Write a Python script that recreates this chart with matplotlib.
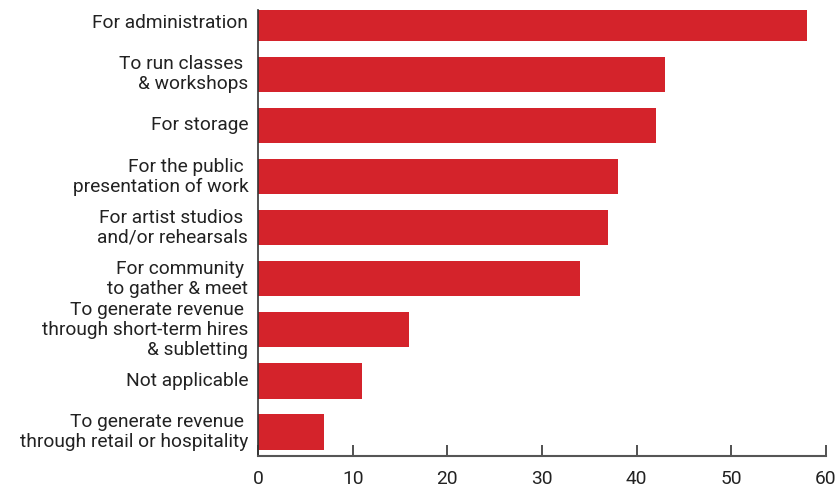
import matplotlib
matplotlib.use("Agg")
import matplotlib.pyplot as plt

# ── Data ─────────────────────────────────────────────────────────────────────
labels = [
    "For administration",
    "To run classes \n& workshops",
    "For storage",
    "For the public \npresentation of work",
    "For artist studios \nand/or rehearsals",
    "For community \nto gather & meet",
    "To generate revenue \nthrough short-term hires\n& subletting",
    "Not applicable",
    "To generate revenue \nthrough retail or hospitality",
]
values = [58, 43, 42, 38, 37, 34, 16, 11, 7]

RED = "#d4232b"
DARK = "#333333"

plt.rcParams["font.family"] = ["Roboto", "DejaVu Sans"]

fig = plt.figure(figsize=(8.37, 4.93), dpi=100)
ax = fig.add_axes([258 / 837, 37 / 493, (826 - 258) / 837, (456 - 10) / 493])

pos = list(range(len(labels)))
ax.barh(pos, values, height=0.69, color=RED)

ax.set_xlim(0, 60)
ax.set_ylim(8.47, -0.26)
ax.set_xticks(range(0, 61, 10))
ax.set_yticks(pos)
ax.set_yticklabels(labels, fontsize=13.8, color="#222222", ha="right",
                   va="center", multialignment="right", linespacing=1.14)

ax.tick_params(axis="x", direction="in", length=8, width=1.2, color=DARK,
               labelsize=13.8, labelcolor="#222222", pad=10)
ax.tick_params(axis="y", length=0, pad=7)

for s in ["top", "right"]:
    ax.spines[s].set_visible(False)
ax.spines["left"].set_color(DARK)
ax.spines["bottom"].set_color("#555555")
ax.spines["left"].set_linewidth(1.2)
ax.spines["bottom"].set_linewidth(1.5)

fig.savefig("out.png", dpi=100)
